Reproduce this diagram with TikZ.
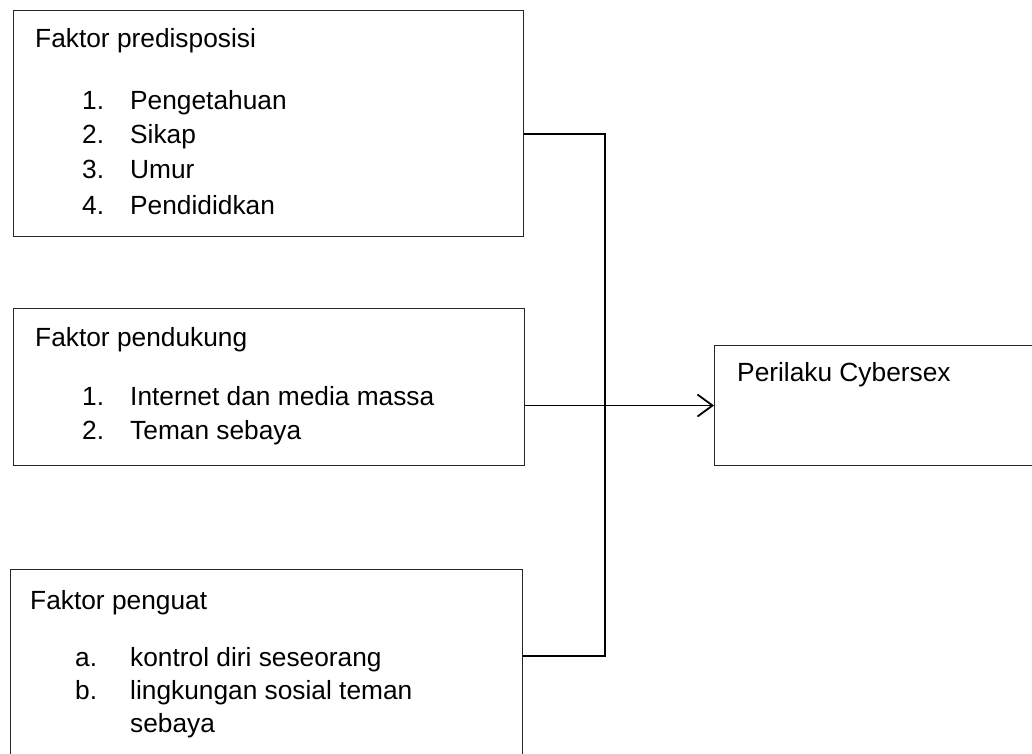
\documentclass[tikz,border=0pt]{standalone}
\usepackage{fontspec}
\setmainfont{Liberation Sans}
\usetikzlibrary{arrows.meta}
\begin{document}
\begin{tikzpicture}[x=1pt,y=-1pt,
  box/.style={draw=black!85,line width=1pt,rectangle,inner sep=0pt,anchor=north west},
  txt/.style={anchor=base west,inner sep=0pt,font=\fontsize{26.3}{31}\selectfont},
  conn/.style={draw=black,line width=1.8pt},
  arr/.style={conn,-{Straight Barb[length=15pt,width=22pt,line width=1.8pt]}}]
\useasboundingbox (0,0) rectangle (1032,753);

% boxes
\node[box,minimum width=510pt,minimum height=226pt] (b1) at (13,10) {};
\node[box,minimum width=511pt,minimum height=157pt] (b2) at (13,308) {};
\node[box,minimum width=512pt,minimum height=200pt] (b3) at (10,569) {};
\node[box,minimum width=340pt,minimum height=120pt] (b4) at (714,345) {};

% box 1 text
\node[txt] (h1) at (35,47) {Faktor predisposisi};
\node[txt] (n11) at (82,109) {1.};
\node[txt] (t11) at (130,109) {Pengetahuan};
\node[txt] (n12) at (82,143) {2.};
\node[txt] (t12) at (130,143) {Sikap};
\node[txt] (n13) at (82,178) {3.};
\node[txt] (t13) at (130,178) {Umur};
\node[txt] (n14) at (82,214) {4.};
\node[txt] (t14) at (130,214) {Pendididkan};

% box 2 text
\node[txt] (h2) at (35,346) {Faktor pendukung};
\node[txt] (n21) at (82,405) {1.};
\node[txt] (t21) at (130,405) {Internet dan media massa};
\node[txt] (n22) at (82,439) {2.};
\node[txt] (t22) at (130,439) {Teman sebaya};

% box 3 text
\node[txt] (h3) at (30,609) {Faktor penguat};
\node[txt] (n31) at (75,666) {a.};
\node[txt] (t31) at (130,666) {kontrol diri seseorang};
\node[txt] (n32) at (75,699) {b.};
\node[txt] (t32) at (130,699) {lingkungan sosial teman};
\node[txt] (t33) at (130,732) {sebaya};

% box 4 text
\node[txt] (h4) at (737,381) {Perilaku Cybersex};

% connectors
\coordinate (j1) at (605,134);
\coordinate (j3) at (605,656);
\draw[conn] (b1.east |- j1) -- (j1) -- (j3) -- (b3.east |- j3);
\draw[arr] (b2.east |- b4.west) -- (b4.west);
\end{tikzpicture}
\end{document}
